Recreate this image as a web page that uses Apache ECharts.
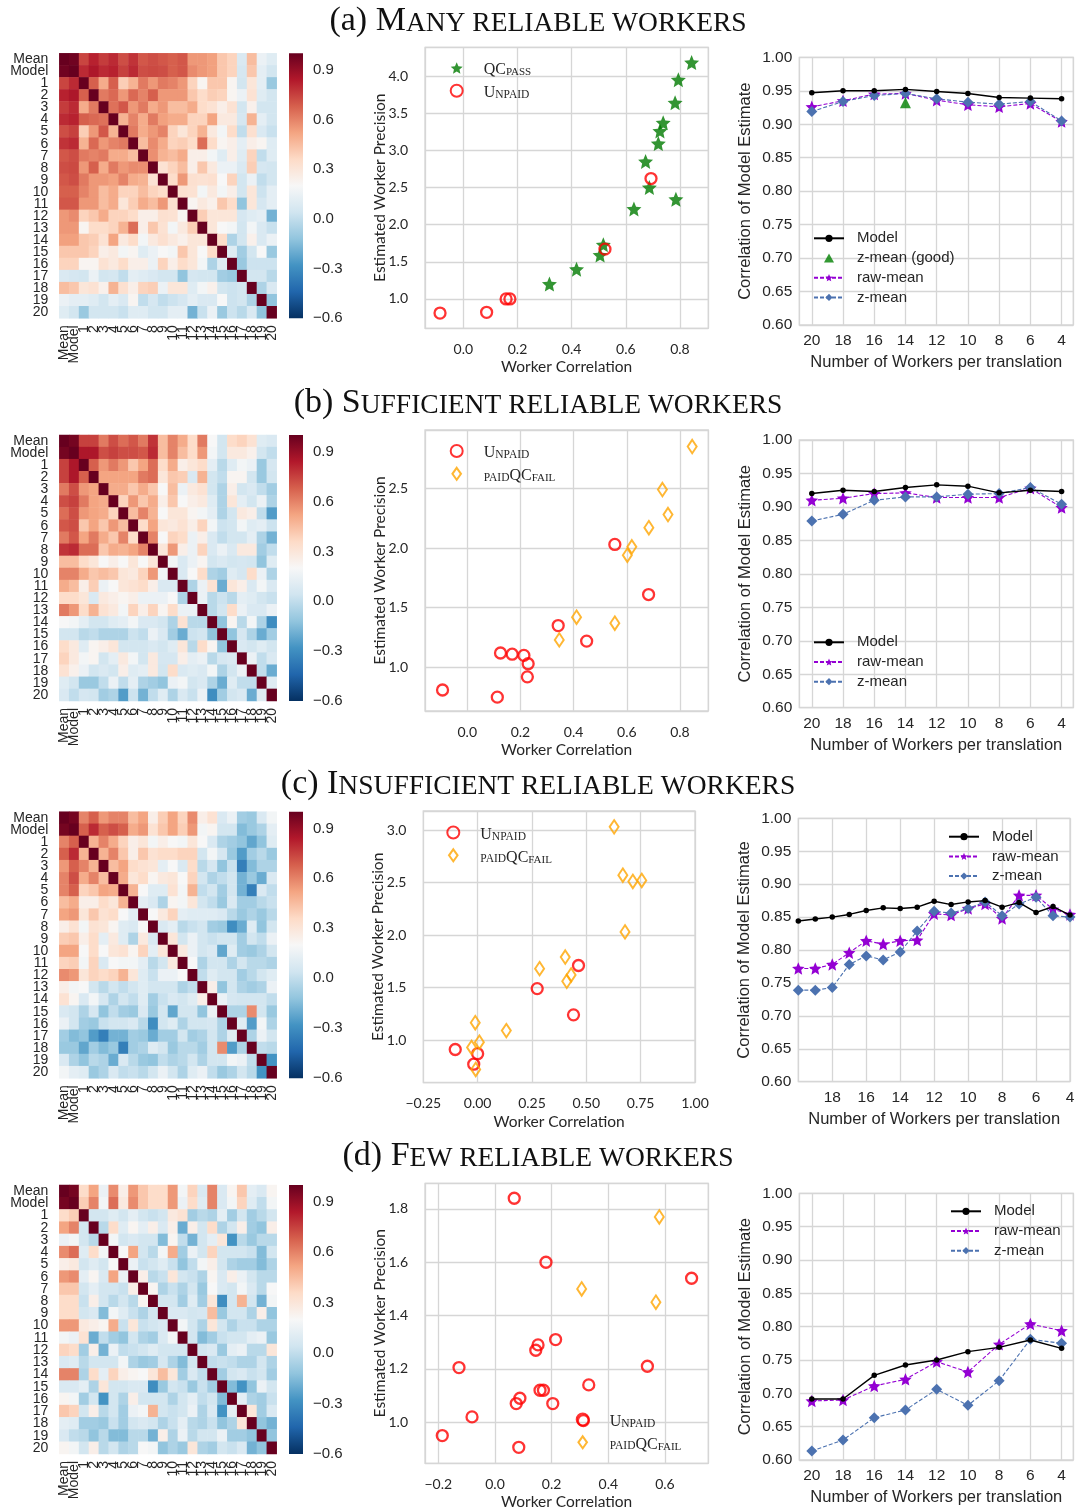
<!DOCTYPE html>
<html>
<head>
<meta charset="utf-8">
<script src="https://cdn.jsdelivr.net/npm/echarts@6/dist/echarts.min.js"></script>
<style>
html,body{margin:0;padding:0;background:#fff;}
#chart{width:1076px;height:1510px;}
</style>
</head>
<body>
<div id="chart"></div>
<script>
// ---------- categories ----------
const heatLabels = ['Mean','Model','1','2','3','4','5','6','7','8','9','10','11','12','13','14','15','16','17','18','19','20'];
const workersEven = [20,18,16,14,12,10,8,6,4];
const workersAll = [20,19,18,17,16,15,14,13,12,11,10,9,8,7,6,5,4];

// ---------- correlation matrices (lower triangles, row i holds columns 0..i-1) ----------
const corrMany = [
 [],
 [0.98],
 [0.74,0.80],
 [0.82,0.85,0.68],
 [0.76,0.80,0.50,0.62],
 [0.80,0.82,0.68,0.66,0.64],
 [0.72,0.75,0.40,0.55,0.70,0.48],
 [0.78,0.80,0.48,0.66,0.55,0.60,0.62],
 [0.70,0.72,0.62,0.60,0.62,0.50,0.50,0.45],
 [0.72,0.73,0.55,0.68,0.50,0.62,0.55,0.58,0.57],
 [0.70,0.72,0.62,0.55,0.55,0.53,0.60,0.50,0.48,0.32],
 [0.68,0.68,0.60,0.55,0.45,0.50,0.38,0.38,0.45,0.38,0.35],
 [0.70,0.70,0.55,0.55,0.45,0.50,0.30,0.40,0.50,0.45,0.55,0.33],
 [0.55,0.58,0.38,0.42,0.50,0.38,0.38,0.35,0.25,0.25,0.33,0.32,0.22],
 [0.55,0.55,0.22,0.35,0.35,0.38,0.48,0.65,0.25,0.42,0.32,0.18,0.28,0.40],
 [0.53,0.53,0.42,0.40,0.32,0.52,0.28,0.35,0.18,0.28,0.33,0.28,0.24,0.30,0.30],
 [0.42,0.42,0.42,0.38,0.25,0.28,0.18,0.22,0.10,0.15,0.20,0.18,0.42,0.30,0.20,0.35],
 [0.38,0.38,0.22,0.22,0.32,0.28,0.35,0.25,0.25,0.15,0.38,0.25,0.35,0.30,0.18,-0.05,0.10],
 [0.08,0.06,0.05,0.15,0.05,0.06,0.00,0.12,0.10,0.08,0.05,0.05,-0.12,0.06,0.05,0.05,-0.08,-0.10],
 [0.45,0.42,0.30,0.32,0.24,0.48,0.33,0.25,0.38,0.40,0.15,0.30,0.30,0.10,0.18,0.24,0.05,0.03,0.05],
 [0.15,0.12,0.12,0.10,0.05,0.12,0.08,0.22,0.00,0.06,0.00,0.03,0.06,0.12,0.08,0.08,0.20,0.03,0.05,-0.05],
 [0.10,0.05,-0.10,0.05,0.05,0.05,0.02,0.10,0.10,0.05,0.05,0.12,0.12,-0.18,0.02,0.15,-0.10,0.03,-0.02,0.08,-0.12]
];
const corrSufficient = [
 [],
 [0.97],
 [0.75,0.85],
 [0.75,0.85,0.68],
 [0.62,0.72,0.55,0.52],
 [0.72,0.75,0.62,0.52,0.50],
 [0.65,0.72,0.55,0.52,0.50,0.38],
 [0.70,0.72,0.42,0.52,0.42,0.55,0.45],
 [0.62,0.70,0.52,0.62,0.50,0.42,0.60,0.35],
 [0.78,0.80,0.65,0.65,0.42,0.50,0.48,0.52,0.60],
 [0.45,0.45,0.35,0.30,0.20,0.25,0.20,0.30,0.20,0.30],
 [0.60,0.60,0.50,0.42,0.45,0.42,0.30,0.28,0.38,0.55,0.18],
 [0.50,0.45,0.25,0.40,0.15,0.20,0.30,0.32,0.35,0.25,0.08,0.08],
 [0.35,0.35,0.30,0.08,0.28,0.25,0.22,0.25,0.15,0.15,0.15,0.20,-0.05],
 [0.62,0.55,0.35,0.48,0.32,0.28,0.18,0.38,0.25,0.38,0.22,0.35,0.15,0.15],
 [0.20,0.18,0.12,0.05,0.05,0.10,0.12,0.18,0.08,0.08,0.05,-0.05,0.32,-0.02,-0.02],
 [0.05,0.05,-0.02,0.00,-0.05,-0.05,-0.05,0.03,0.00,0.15,0.08,-0.08,-0.20,0.03,0.05,-0.12],
 [0.35,0.28,0.10,0.22,0.25,0.30,0.05,0.05,0.05,0.08,0.05,0.10,0.30,-0.02,0.35,0.22,-0.12],
 [0.38,0.28,0.18,0.22,0.05,0.12,0.28,0.18,0.05,0.28,0.06,0.06,0.25,0.12,0.15,-0.02,0.06,0.08],
 [0.32,0.24,0.15,0.05,0.08,0.05,0.25,0.10,0.12,0.28,0.05,0.35,0.08,0.10,0.08,0.18,-0.05,0.05,0.15],
 [0.10,0.05,-0.10,-0.10,0.00,0.15,0.00,0.12,-0.05,-0.08,-0.12,0.15,0.18,0.05,0.08,-0.05,-0.20,0.10,0.00,0.00],
 [0.08,0.00,0.06,0.05,-0.08,-0.05,-0.25,0.03,-0.18,0.00,0.10,-0.05,0.08,0.02,0.15,-0.30,-0.08,0.05,0.08,-0.20,0.10]
];
const corrInsufficient = [
 [],
 [0.97],
 [0.60,0.68],
 [0.68,0.80,0.48],
 [0.55,0.68,0.60,0.48],
 [0.60,0.72,0.50,0.60,0.45],
 [0.60,0.68,0.38,0.42,0.52,0.50],
 [0.45,0.50,0.25,0.25,0.35,0.30,0.48],
 [0.52,0.55,0.30,0.42,0.32,0.35,0.20,0.12],
 [0.25,0.32,0.18,0.32,0.30,0.22,0.10,0.08,0.20],
 [0.40,0.42,0.25,0.35,0.12,0.28,0.10,-0.05,0.28,0.08],
 [0.52,0.52,0.20,0.35,0.20,0.30,0.32,0.22,0.38,0.12,0.30],
 [0.38,0.40,0.18,0.38,0.08,0.20,0.18,0.18,0.12,-0.02,0.05,0.28],
 [0.58,0.55,0.30,0.38,0.35,0.38,0.48,0.30,0.10,0.02,0.15,0.15,0.20],
 [0.25,0.18,0.20,0.05,-0.02,0.05,0.00,0.05,0.10,0.05,0.05,0.05,-0.05,0.00],
 [0.32,0.22,0.08,0.18,0.06,-0.05,0.05,0.00,0.10,-0.08,0.02,0.08,0.05,0.10,0.25],
 [0.08,0.05,-0.05,0.06,-0.12,0.00,-0.08,-0.10,0.08,-0.10,0.05,-0.22,0.05,0.05,-0.12,0.15],
 [0.15,0.05,-0.08,-0.10,0.02,0.05,0.05,0.08,-0.02,-0.30,0.05,0.10,-0.05,0.05,0.05,0.06,-0.05],
 [-0.08,-0.15,-0.12,-0.25,-0.35,-0.18,-0.18,-0.08,-0.10,-0.20,-0.08,-0.08,0.05,-0.08,-0.05,0.05,-0.05,0.10],
 [-0.10,-0.10,-0.22,-0.08,-0.15,-0.10,-0.35,-0.08,-0.05,0.10,0.05,-0.10,-0.02,-0.02,-0.08,0.05,0.58,-0.25,-0.05],
 [0.08,-0.05,-0.12,-0.02,-0.05,-0.20,0.08,-0.02,-0.10,-0.12,0.00,-0.05,-0.02,0.05,-0.05,0.05,0.05,0.18,0.15,0.00],
 [0.18,0.12,0.10,-0.10,-0.05,0.08,0.00,0.02,-0.02,0.05,0.15,0.05,-0.05,0.10,0.15,0.00,-0.10,-0.05,0.05,-0.02,-0.28]
];
const corrFew = [
 [],
 [0.97],
 [0.35,0.40],
 [0.52,0.60,0.05],
 [0.15,0.18,0.05,-0.02],
 [0.58,0.65,0.10,0.35,0.18],
 [0.25,0.28,0.05,0.10,0.05,0.20],
 [0.55,0.58,0.12,0.22,0.08,0.52,0.15],
 [0.42,0.42,0.05,0.12,0.05,0.05,0.02,0.25],
 [0.35,0.35,0.02,0.25,0.05,-0.02,0.05,-0.02,0.22],
 [0.35,0.35,0.05,0.08,-0.15,0.18,0.10,0.02,-0.05,0.05],
 [0.55,0.55,0.28,0.25,0.22,0.50,0.02,0.30,0.02,0.05,0.08],
 [0.18,0.15,0.32,-0.20,0.00,-0.08,-0.12,0.05,-0.05,-0.08,0.08,0.18],
 [0.38,0.35,-0.08,0.25,-0.18,0.15,0.00,0.02,0.05,0.10,0.05,0.05,0.05],
 [0.08,0.10,-0.02,0.05,0.05,0.05,0.18,-0.05,-0.10,-0.08,0.06,-0.05,-0.15,0.05],
 [0.60,0.60,-0.05,0.35,0.12,0.38,0.25,0.22,0.20,0.30,0.45,0.30,-0.08,0.08,0.00],
 [0.08,0.08,0.12,-0.05,0.30,0.05,0.05,0.08,0.08,-0.30,-0.10,0.05,0.02,-0.10,0.02,-0.08],
 [0.22,0.18,-0.08,0.05,-0.28,0.05,-0.05,0.25,0.05,0.05,0.05,-0.05,0.05,0.12,0.00,0.05,-0.15],
 [0.42,0.38,0.05,0.25,-0.02,0.05,-0.08,0.15,0.18,0.48,0.05,0.02,0.05,0.15,-0.05,0.08,-0.28,0.12],
 [0.12,0.10,-0.08,-0.08,-0.10,0.02,-0.08,0.05,0.08,0.05,-0.05,0.02,0.12,-0.02,-0.05,0.02,-0.12,-0.05,0.30],
 [0.08,0.00,-0.02,-0.12,-0.02,-0.15,-0.15,-0.02,-0.02,-0.18,0.25,-0.05,0.15,-0.02,0.05,0.05,0.15,-0.08,-0.08,-0.12],
 [0.22,0.18,0.05,0.25,-0.02,0.05,-0.05,-0.02,0.20,0.18,-0.12,-0.05,-0.10,0.30,-0.05,-0.08,0.05,0.02,0.08,-0.18,-0.12]
];

// ---------- worker correlation vs estimated precision ----------
const manyQcPass = [[0.843,4.18],[0.794,3.95],[0.782,3.64],[0.738,3.37],[0.726,3.26],[0.720,3.09],[0.673,2.85],[0.687,2.50],[0.785,2.34],[0.630,2.21],[0.517,1.73],[0.505,1.59],[0.418,1.40],[0.318,1.20]];
const manyUnpaid = [[0.693,2.62],[0.523,1.67],[0.158,1.00],[0.172,1.00],[0.086,0.82],[-0.086,0.81]];
const sufficientUnpaid = [[0.555,2.03],[0.682,1.61],[0.342,1.35],[0.449,1.22],[0.125,1.12],[0.169,1.11],[0.213,1.10],[0.229,1.03],[0.226,0.92],[-0.093,0.81],[0.113,0.75]];
const sufficientPaidFail = [[0.846,2.85],[0.734,2.49],[0.755,2.28],[0.683,2.17],[0.619,2.01],[0.602,1.94],[0.411,1.42],[0.555,1.37],[0.346,1.23]];
const insufficientUnpaid = [[0.464,1.71],[0.274,1.49],[0.441,1.24],[-0.103,0.91],[0.000,0.87],[-0.018,0.77]];
const insufficientPaidFail = [[0.628,3.03],[0.668,2.57],[0.714,2.51],[0.755,2.52],[0.678,2.03],[0.403,1.79],[0.285,1.68],[0.430,1.62],[0.410,1.56],[0.132,1.09],[-0.011,1.165],[0.008,0.98],[-0.028,0.93],[-0.009,0.72]];
const fewUnpaid = [[0.068,1.84],[0.180,1.60],[0.694,1.54],[0.214,1.31],[0.152,1.29],[0.144,1.27],[-0.127,1.205],[0.538,1.21],[0.331,1.14],[0.159,1.12],[0.171,1.12],[0.088,1.09],[0.075,1.07],[0.204,1.07],[-0.081,1.02],[0.312,1.006],[-0.186,0.95],[0.084,0.906]];
const fewPaidFail = [[0.580,1.77],[0.306,1.50],[0.568,1.45]];

// ---------- correlation of model estimate vs workers per translation ----------
const manyModel = [0.947,0.950,0.950,0.952,0.949,0.946,0.940,0.939,0.938];
const manyRaw   = [0.926,0.935,0.945,0.946,0.936,0.929,0.926,0.931,0.904];
const manyZ     = [0.919,0.934,0.943,0.946,0.938,0.933,0.930,0.934,0.905];
const manyZGoodWorkers = [14];
const manyZGood = [0.932];

const sufficientModel = [0.920,0.925,0.923,0.929,0.933,0.931,0.921,0.925,0.923];
const sufficientRaw   = [0.910,0.913,0.920,0.921,0.914,0.914,0.914,0.928,0.899];
const sufficientZ     = [0.879,0.889,0.910,0.915,0.915,0.919,0.920,0.929,0.904];

const insufficientModel = [0.844,0.847,0.850,0.854,0.860,0.864,0.863,0.865,0.874,0.869,0.873,0.875,0.865,0.872,0.857,0.866,0.853];
const insufficientRaw   = [0.772,0.772,0.778,0.796,0.814,0.809,0.814,0.815,0.855,0.853,0.863,0.870,0.848,0.883,0.883,0.862,0.854];
const insufficientZ     = [0.739,0.739,0.743,0.778,0.791,0.785,0.797,0.829,0.859,0.856,0.863,0.873,0.852,0.870,0.880,0.852,0.850];

const fewModel = [0.6915,0.6915,0.727,0.7425,0.750,0.7625,0.769,0.780,0.7675];
const fewRaw   = [0.6885,0.690,0.711,0.721,0.7475,0.732,0.7735,0.804,0.794];
const fewZ     = [0.6135,0.630,0.6635,0.675,0.706,0.682,0.719,0.781,0.775];

// ---------- styling ----------
const SANS = '"Liberation Sans", Arial, sans-serif';
const SERIF = '"Liberation Serif", "Times New Roman", serif';
const CMSANS = 'Lato, "Open Sans", sans-serif';
const TXT = '#262626';
const GRIDC = '#d6d6d6';
const RDBU = ['#053061','#2166ac','#4393c3','#92c5de','#d1e5f0','#f7f7f7','#fddbc7','#f4a582','#d6604d','#b2182b','#67001f'];
const CMIN = -0.6, CMAX = 1.0;

function starPath(inner) {
  let d = '';
  for (let k = 0; k < 10; k++) {
    const r = k % 2 === 0 ? 50 : inner;
    const a = -Math.PI / 2 + k * Math.PI / 5;
    d += (k ? 'L' : 'M') + (50 + r * Math.cos(a)).toFixed(2) + ',' + (52 + r * Math.sin(a)).toFixed(2);
  }
  return 'path://' + d + 'Z';
}
const STAR = starPath(23);
const DIAMOND_ICON = 'path://M5,0L10,7L5,14L0,7Z';
const TRIANGLE_ICON = 'path://M5,0L10,9L0,9Z';

function minus(s) { return String(s).replace('-', '\u2212'); }

function fullMatrix(tri) {
  const n = tri.length, out = [];
  for (let i = 0; i < n; i++) {
    for (let j = 0; j < n; j++) {
      let v;
      if (i === j) v = 1;
      else if (i > j) v = tri[i][j];
      else v = tri[j][i];
      out.push([j, i, v]);
    }
  }
  return out;
}
function pairs(xs, ys) { return xs.map(function (x, i) { return [x, ys[i]]; }); }

// ---------- layout ----------
const rows = [
  { title: '{b|(a) M}{s|ANY RELIABLE WORKERS}', titleTop: -1,
    heat: { top: 53.3, h: 265 },
    sc: { left: 425, top: 47.3, w: 283.3, h: 281, xmin: -0.1415, xmax: 0.9046, xsplit: 5, ymin: 0.605, ymax: 4.386, ysplit: 7 },
    ln: { left: 799.3, top: 57.3, w: 274, h: 267.7 } },
  { title: '{b|(b) S}{s|UFFICIENT RELIABLE WORKERS}', titleTop: 381,
    heat: { top: 435, h: 266 },
    sc: { left: 425, top: 430, w: 283.3, h: 281, xmin: -0.159, xmax: 0.9066, xsplit: 5, ymin: 0.634, ymax: 2.989, ysplit: 5 },
    ln: { left: 799.3, top: 440, w: 274, h: 267.7 } },
  { title: '{b|(c) I}{s|NSUFFICIENT RELIABLE WORKERS}', titleTop: 762,
    heat: { top: 811.7, h: 266.6 },
    sc: { left: 423.3, top: 811, w: 271.7, h: 271.7, xmin: -0.25, xmax: 1.0, xinterval: 0.25, ymin: 0.594, ymax: 3.181, ysplit: 5 },
    ln: { left: 798.3, top: 818.3, w: 271.7, h: 263.4 } },
  { title: '{b|(d) F}{s|EW RELIABLE WORKERS}', titleTop: 1134,
    heat: { top: 1185, h: 269 },
    sc: { left: 425, top: 1183.3, w: 283.3, h: 280, xmin: -0.247, xmax: 0.753, xsplit: 5, ymin: 0.846, ymax: 1.896, ysplit: 5 },
    ln: { left: 799.3, top: 1193.3, w: 274, h: 266.7 } }
];
const heatMatrices = [corrMany, corrSufficient, corrInsufficient, corrFew];

const option = {
  backgroundColor: '#ffffff',
  animation: false,
  title: [], grid: [], xAxis: [], yAxis: [], series: [], legend: [], visualMap: []
};
const heatSeriesIdx = [];

function addGrid(left, top, width, height, framed) {
  option.grid.push({
    left: left, top: top, width: width, height: height,
    show: !!framed, borderColor: GRIDC, borderWidth: framed ? 1.3 : 0,
    backgroundColor: 'rgba(0,0,0,0)', containLabel: false, outerBoundsMode: 'none'
  });
  return option.grid.length - 1;
}

const titleRich = {
  b: { fontFamily: SERIF, fontSize: 34, fontWeight: 'normal', color: '#111', lineHeight: 39, verticalAlign: 'bottom' },
  s: { fontFamily: SERIF, fontSize: 27.5, fontWeight: 'normal', color: '#111', lineHeight: 33, verticalAlign: 'bottom' }
};
const legendRich = {
  bf: { fontFamily: SERIF, fontSize: 16, color: TXT, lineHeight: 20, verticalAlign: 'bottom', padding: [0, 0, 0, 16] },
  sf: { fontFamily: SERIF, fontSize: 11.5, color: TXT, lineHeight: 16.3, verticalAlign: 'bottom', padding: [0, 0, 0, 16] },
  b:  { fontFamily: SERIF, fontSize: 16, color: TXT, lineHeight: 20, verticalAlign: 'bottom' },
  s:  { fontFamily: SERIF, fontSize: 11.5, color: TXT, lineHeight: 16.3, verticalAlign: 'bottom' },
  u:  { fontFamily: SERIF, fontSize: 11, color: TXT, lineHeight: 11, verticalAlign: 'bottom' }
};
function scatterLegendText(name) {
  if (name === 'QCpass') return '{bf|QC}{u|PASS}';
  if (name === 'Unpaid') return '{bf|U}{s|NPAID}';
  return '{sf|PAID}{b|QC}{u|FAIL}';
}

rows.forEach(function (row, r) {
  // row heading
  option.title.push({
    text: row.title, left: 'center', top: row.titleTop, padding: 0,
    textStyle: { fontWeight: 'normal', rich: titleRich }
  });

  // ---- correlation heatmap ----
  const gH = addGrid(59.3, row.heat.top, 217.4, row.heat.h, false);
  option.xAxis.push({
    gridIndex: gH, type: 'category', data: heatLabels, position: 'bottom',
    axisLine: { show: false }, axisTick: { show: false }, splitLine: { show: false },
    axisLabel: { interval: 0, rotate: 90, fontFamily: SANS, fontSize: 14, color: TXT, margin: 7 }
  });
  option.yAxis.push({
    gridIndex: gH, type: 'category', data: heatLabels, inverse: true,
    axisLine: { show: false }, axisTick: { show: false }, splitLine: { show: false },
    axisLabel: { interval: 0, fontFamily: SANS, fontSize: 14, color: TXT, margin: 11 }
  });
  heatSeriesIdx.push(option.series.length);
  option.series.push({
    type: 'heatmap', xAxisIndex: option.xAxis.length - 1, yAxisIndex: option.yAxis.length - 1,
    data: fullMatrix(heatMatrices[r]), itemStyle: { borderWidth: 0 }, emphasis: { disabled: true },
    progressive: 0
  });

  // ---- colour bar ----
  const gC = addGrid(289, row.heat.top, 14, row.heat.h, false);
  option.xAxis.push({ gridIndex: gC, type: 'value', min: 0, max: 1, show: false });
  option.yAxis.push({
    gridIndex: gC, type: 'value', min: CMIN, max: CMAX, interval: 0.3, position: 'right',
    axisLine: { show: false }, axisTick: { show: false }, splitLine: { show: false },
    axisLabel: { showMaxLabel: false, fontFamily: SANS, fontSize: 15, color: TXT, margin: 10,
      formatter: function (v) { return minus(v.toFixed(1)); } }
  });
  option.series.push({
    type: 'custom', xAxisIndex: option.xAxis.length - 1, yAxisIndex: option.yAxis.length - 1,
    data: [[0.5, CMAX]], silent: true,
    renderItem: function (params, api) {
      const top = api.coord([0, CMAX]);
      const bot = api.coord([0, CMIN]);
      const cs = params.coordSys;
      const stops = RDBU.slice().reverse().map(function (c, k) { return { offset: k / (RDBU.length - 1), color: c }; });
      return { type: 'rect', shape: { x: cs.x, y: top[1], width: cs.width, height: bot[1] - top[1] },
        style: { fill: new echarts.graphic.LinearGradient(0, 0, 0, 1, stops) } };
    }
  });

  // ---- scatter of worker correlation vs precision ----
  const sc = row.sc;
  const gS = addGrid(sc.left, sc.top, sc.w, sc.h, true);
  const xAx = {
    gridIndex: gS, type: 'value', min: sc.xmin, max: sc.xmax,
    axisLine: { show: false }, axisTick: { show: false },
    splitLine: { show: true, lineStyle: { color: GRIDC, width: 1.3 } },
    axisLabel: { fontFamily: CMSANS, fontSize: 14, color: TXT, margin: 14,
      formatter: function (v) { return minus(sc.xinterval ? v.toFixed(2) : v.toFixed(1)); } },
    name: 'Worker Correlation', nameLocation: 'middle', nameGap: 31, nameMoveOverlap: false,
    nameTextStyle: { fontFamily: CMSANS, fontSize: 15.5, color: TXT }
  };
  if (sc.xinterval) { xAx.interval = sc.xinterval; }
  else { xAx.splitNumber = sc.xsplit; xAx.axisLabel.showMinLabel = false; xAx.axisLabel.showMaxLabel = false; }
  option.xAxis.push(xAx);
  option.yAxis.push({
    gridIndex: gS, type: 'value', min: sc.ymin, max: sc.ymax, splitNumber: sc.ysplit,
    axisLine: { show: false }, axisTick: { show: false },
    splitLine: { show: true, lineStyle: { color: GRIDC, width: 1.3 } },
    axisLabel: { showMinLabel: false, showMaxLabel: false, fontFamily: CMSANS, fontSize: 14, color: TXT, margin: 17,
      formatter: function (v) { return v.toFixed(1); } },
    name: 'Estimated Worker Precision', nameLocation: 'middle', nameGap: 37, nameMoveOverlap: false,
    nameTextStyle: { fontFamily: CMSANS, fontSize: 15.5, color: TXT }
  });
  const xi = option.xAxis.length - 1, yi = option.yAxis.length - 1;
  const unpaidStyle = { color: 'rgba(0,0,0,0)', borderColor: '#ff0000', borderWidth: 2.3 };
  const failStyle = { color: 'rgba(0,0,0,0)', borderColor: '#ffa500', borderWidth: 2 };
  const scatterSets = [
    [{ name: 'QCpass', data: manyQcPass }, { name: 'Unpaid', data: manyUnpaid }],
    [{ name: 'Unpaid', data: sufficientUnpaid }, { name: 'paidQCfail', data: sufficientPaidFail }],
    [{ name: 'Unpaid', data: insufficientUnpaid }, { name: 'paidQCfail', data: insufficientPaidFail }],
    [{ name: 'Unpaid', data: fewUnpaid }, { name: 'paidQCfail', data: fewPaidFail }]
  ][r];
  scatterSets.forEach(function (s) {
    let sym, size, style;
    if (s.name === 'QCpass') { sym = STAR; size = 15; style = { color: '#007a00' }; }
    else if (s.name === 'Unpaid') { sym = 'circle'; size = 11; style = unpaidStyle; }
    else { sym = 'diamond'; size = [9, 13.5]; style = failStyle; }
    option.series.push({
      type: 'scatter', name: s.name, xAxisIndex: xi, yAxisIndex: yi, data: s.data,
      symbol: sym, symbolSize: size, itemStyle: style, emphasis: { disabled: true }
    });
  });
  const legendPos = [
    { left: 449.7, top: 62 }, { left: 449.7, top: 444 }, { left: 446.3, top: 825.5 }, { left: 575.7, top: 1412.5 }
  ][r];
  option.legend.push({
    left: legendPos.left, top: legendPos.top, orient: 'vertical',
    itemWidth: 12, itemHeight: 12, itemGap: 5.8, padding: 0, selectedMode: false,
    data: scatterSets.map(function (s) {
      return s.name === 'paidQCfail' ? { name: s.name, icon: DIAMOND_ICON } : { name: s.name };
    }),
    formatter: scatterLegendText,
    textStyle: { rich: legendRich }
  });

  // ---- correlation of model estimate ----
  const ln = row.ln;
  const gL = addGrid(ln.left, ln.top, ln.w, ln.h, true);
  const lx = {
    gridIndex: gL, type: 'value', inverse: true,
    axisLine: { show: false }, axisTick: { show: false },
    splitLine: { show: true, lineStyle: { color: GRIDC, width: 1.3 } },
    axisLabel: { fontFamily: SANS, fontSize: 15.5, color: TXT, margin: 8 },
    name: 'Number of Workers per translation', nameLocation: 'middle', nameGap: 29, nameMoveOverlap: false,
    nameTextStyle: { fontFamily: SANS, fontSize: 16.5, color: TXT }
  };
  if (r === 2) { lx.min = 4; lx.max = 20; lx.interval = 2; lx.axisLabel.showMaxLabel = false; }
  else { lx.min = 3.25; lx.max = 20.8; lx.splitNumber = 9; lx.axisLabel.showMinLabel = false; lx.axisLabel.showMaxLabel = false; }
  option.xAxis.push(lx);
  option.yAxis.push({
    gridIndex: gL, type: 'value', min: 0.6, max: 1.0, interval: 0.05,
    axisLine: { show: false }, axisTick: { show: false },
    splitLine: { show: true, lineStyle: { color: GRIDC, width: 1.3 } },
    axisLabel: { fontFamily: SANS, fontSize: 15.5, color: TXT, margin: 7,
      formatter: function (v) { return v.toFixed(2); } },
    name: 'Correlation of Model Estimate', nameLocation: 'middle', nameGap: 45, nameMoveOverlap: false,
    nameTextStyle: { fontFamily: SANS, fontSize: 16.5, color: TXT }
  });
  const lxi = option.xAxis.length - 1, lyi = option.yAxis.length - 1;
  const lineSets = [
    { xs: workersEven, model: manyModel, raw: manyRaw, z: manyZ },
    { xs: workersEven, model: sufficientModel, raw: sufficientRaw, z: sufficientZ },
    { xs: workersAll, model: insufficientModel, raw: insufficientRaw, z: insufficientZ },
    { xs: workersEven, model: fewModel, raw: fewRaw, z: fewZ }
  ][r];
  option.series.push({
    type: 'line', name: 'Model', xAxisIndex: lxi, yAxisIndex: lyi, data: pairs(lineSets.xs, lineSets.model),
    symbol: 'circle', symbolSize: 5.5, showAllSymbol: true, z: 4,
    lineStyle: { color: '#000', width: 1.4 }, itemStyle: { color: '#000' }, emphasis: { disabled: true }
  });
  if (r === 0) {
    option.series.push({
      type: 'scatter', name: 'z-mean (good)', xAxisIndex: lxi, yAxisIndex: lyi,
      data: pairs(manyZGoodWorkers, manyZGood), symbol: 'triangle', symbolSize: 11, z: 5,
      itemStyle: { color: '#008000' }, emphasis: { disabled: true }
    });
  }
  option.series.push({
    type: 'line', name: 'raw-mean', xAxisIndex: lxi, yAxisIndex: lyi, data: pairs(lineSets.xs, lineSets.raw),
    symbol: STAR, symbolSize: 12.5, showAllSymbol: true, z: 3,
    lineStyle: { color: '#9400d3', width: 1.1, type: [4, 2] }, itemStyle: { color: '#9400d3' }, emphasis: { disabled: true }
  });
  option.series.push({
    type: 'line', name: 'z-mean', xAxisIndex: lxi, yAxisIndex: lyi, data: pairs(lineSets.xs, lineSets.z),
    symbol: 'diamond', symbolSize: 11, showAllSymbol: true, z: 3,
    lineStyle: { color: '#4c72b0', width: 1.1, type: [4, 2] }, itemStyle: { color: '#4c72b0' }, emphasis: { disabled: true }
  });
  const legendNames = r === 0
    ? ['Model', { name: 'z-mean (good)', icon: TRIANGLE_ICON }, 'raw-mean', 'z-mean']
    : ['Model', 'raw-mean', 'z-mean'];
  const llPos = [
    { left: 813, top: 230.8 }, { left: 813, top: 634.8 }, { left: 948, top: 829.2 }, { left: 950, top: 1203.8 }
  ][r];
  option.legend.push({
    left: llPos.left, top: llPos.top, orient: 'vertical',
    itemWidth: 30, itemHeight: 9, itemGap: 4.7, padding: 0, selectedMode: false,
    data: legendNames,
    formatter: function (n) { return '{t|' + n + '}'; },
    textStyle: { rich: { t: { fontFamily: SANS, fontSize: 15, color: TXT, lineHeight: 17, padding: [0, 0, 0, 8] } } }
  });
});

option.visualMap.push({
  type: 'continuous', show: false, min: CMIN, max: CMAX, dimension: 2,
  seriesIndex: heatSeriesIdx, inRange: { color: RDBU }
});

const chart = echarts.init(document.getElementById('chart'), null, { renderer: 'canvas' });
chart.setOption(option);
</script>
</body>
</html>
